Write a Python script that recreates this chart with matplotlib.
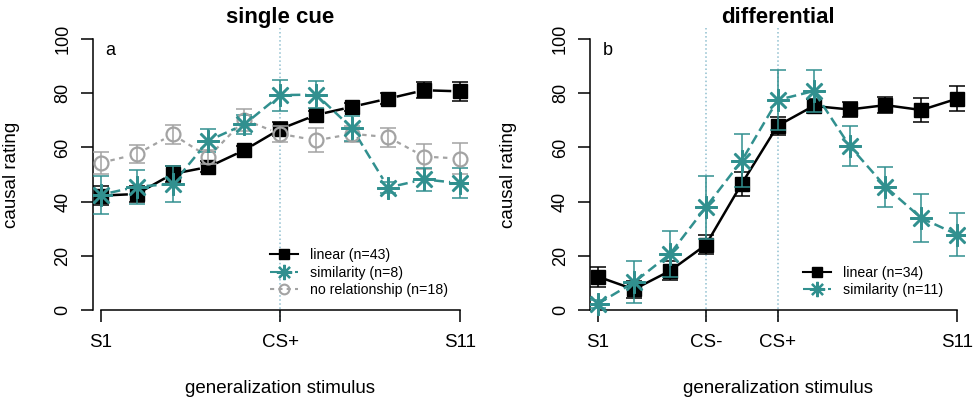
import numpy as np
import matplotlib.pyplot as plt
from matplotlib.lines import Line2D

plt.rcParams['font.family'] = ['Liberation Sans', 'DejaVu Sans']

stim = np.arange(1, 12)

# panel a: single cue
single_linear = [42.2, 42.8, 50.2, 52.8, 59.0, 66.8, 72.0, 75.0, 78.0, 81.1, 80.7]
single_linear_err = [3.5, 3.0, 3.0, 2.0, 1.5, 2.5, 1.5, 1.5, 2.0, 3.0, 3.5]
single_sim = [42.5, 45.5, 46.5, 62.5, 68.5, 79.3, 79.5, 67.0, 45.2, 48.2, 46.8]
single_sim_err = [7.0, 6.3, 6.6, 4.3, 3.5, 5.7, 4.9, 4.6, 2.0, 4.3, 5.5]
single_none = [54.3, 57.5, 64.8, 56.5, 70.2, 65.0, 62.6, 65.0, 63.8, 56.6, 55.9]
single_none_err = [4.1, 3.4, 3.6, 2.5, 4.0, 3.0, 4.4, 3.0, 3.5, 4.5, 5.6]

# panel b: differential
diff_linear = [12.3, 7.6, 14.4, 24.0, 46.6, 68.0, 75.3, 74.0, 75.6, 73.8, 78.0]
diff_linear_err = [3.7, 3.0, 3.5, 3.5, 4.5, 3.4, 2.5, 2.7, 3.0, 4.6, 4.6]
diff_sim = [2.3, 10.2, 20.6, 37.9, 55.1, 77.5, 80.8, 60.6, 45.5, 33.9, 27.8]
diff_sim_err = [1.5, 7.7, 8.6, 11.6, 9.7, 11.1, 7.7, 7.4, 7.4, 8.8, 7.9]

single_ticks = [1, 6, 11]
single_ticklabels = ['S1', 'CS+', 'S11']
diff_ticks = [1, 4, 6, 11]
diff_ticklabels = ['S1', 'CS-', 'CS+', 'S11']

TEAL = '#31908f'
GREY = '#a3a3a3'
VLINE = '#8fbfcf'

fig = plt.figure(figsize=(9.74, 4.04), dpi=100)
W, H = 974.0, 404.0


def make_axes(left_px):
    ax = fig.add_axes([left_px / W, 1 - 320.8 / H, 374.7 / W, 292.6 / H])
    ax.set_xlim(0.786, 11.214)
    ax.set_ylim(-4, 104)
    for s in ['top', 'right']:
        ax.spines[s].set_visible(False)
    ax.spines['left'].set_bounds(0, 100)
    ax.spines['bottom'].set_position(('data', 0))
    ax.spines['bottom'].set_bounds(1, 11)
    for s in ['left', 'bottom']:
        ax.spines[s].set_linewidth(1.1)
    ax.set_yticks([0, 20, 40, 60, 80, 100])
    ax.tick_params(axis='y', labelrotation=90, length=8.4, width=1.1, pad=7, labelsize=13)
    ax.tick_params(axis='x', length=8.4, width=1.1, pad=9, labelsize=13.5)
    for lab in ax.get_yticklabels():
        lab.set_va('center')
    ax.set_ylabel('causal rating', fontsize=13.5)
    ax.yaxis.set_label_coords(-0.195, 0.5)
    ax.set_xlabel('generalization stimulus', fontsize=13.5)
    ax.xaxis.label.set_va('center')
    ax.xaxis.set_label_coords(0.5, -0.23)
    return ax


def gapped(ax, x, y, gap=10, **kw):
    # R type="b": segments stop short of the points
    tr = ax.transData
    pts = tr.transform(np.column_stack([x, y]))
    for p0, p1 in zip(pts[:-1], pts[1:]):
        d = p1 - p0
        L = np.hypot(*d)
        if L <= 2 * gap:
            continue
        u = d / L
        seg = tr.inverted().transform(np.array([p0 + u * gap, p1 - u * gap]))
        ax.plot(seg[:, 0], seg[:, 1], **kw)


def errs(ax, x, y, e, color):
    ax.errorbar(x, y, yerr=e, fmt='none', ecolor=color, elinewidth=1.1,
                capsize=6, capthick=1.1, zorder=4)


ast = (8, 2, 0)

# ---- panel a
ax1 = make_axes(93)
ax1.axvline(6, color=VLINE, ls=':', lw=1.1, zorder=0)
gapped(ax1, stim, single_linear, color='black', lw=1.8, zorder=2)
gapped(ax1, stim, single_none, color=GREY, lw=1.6, ls=(0, (2, 2)), zorder=2)
gapped(ax1, stim, single_sim, color=TEAL, lw=1.8, ls=(0, (4, 2)), zorder=2)
ax1.plot(stim, single_linear, 's', color='black', ms=9.5, zorder=3)
errs(ax1, stim, single_linear, single_linear_err, 'black')
ax1.plot(stim, single_none, 'o', mfc='none', mec=GREY, mew=1.6, ms=10, zorder=5)
errs(ax1, stim, single_none, single_none_err, GREY)
ax1.plot(stim, single_sim, ls='none', marker=ast, color=TEAL, mew=1.8, ms=16, zorder=6)
errs(ax1, stim, single_sim, single_sim_err, TEAL)
ax1.set_xticks(single_ticks)
ax1.set_xticklabels(single_ticklabels)
ax1.xaxis.get_major_ticks()[1].tick1line.set_linestyle((0, (2, 1)))
ax1.set_title('single cue', fontsize=16, fontweight='bold', pad=3)
ax1.text(1.26, 95.9, 'a', fontsize=13, ha='center', va='center')

h1 = [Line2D([], [], color='black', lw=1.5, marker='s', ms=7),
      Line2D([], [], color=TEAL, lw=1.5, ls=(0, (4, 2)), marker=ast, ms=11, mew=1.6),
      Line2D([], [], color=GREY, lw=1.5, ls=(0, (2, 2)), marker='o', mfc='none', ms=7, mew=1.5)]
fig.legend(h1, ['linear (n=43)', 'similarity (n=8)', 'no relationship (n=18)'],
           loc='center left', bbox_to_anchor=(270 / W, 1 - 272.5 / H), frameon=False,
           fontsize=10.2, handlelength=1.95, handletextpad=0.85, labelspacing=0.27,
           borderpad=0, borderaxespad=0)

# ---- panel b
ax2 = make_axes(590.3)
ax2.axvline(4, color=VLINE, ls=':', lw=1.1, zorder=0)
ax2.axvline(6, color=VLINE, ls=':', lw=1.1, zorder=0)
ax2.plot(stim, diff_linear, color='black', lw=1.8, marker='s', ms=9.5, zorder=3)
errs(ax2, stim, diff_linear, diff_linear_err, 'black')
ax2.plot(stim, diff_sim, color=TEAL, lw=1.8, ls=(0, (4, 2)), marker=ast, mew=1.8, ms=16, zorder=5)
errs(ax2, stim, diff_sim, diff_sim_err, TEAL)
ax2.set_xticks(diff_ticks)
ax2.set_xticklabels(diff_ticklabels)
ax2.xaxis.get_major_ticks()[1].tick1line.set_linestyle((0, (2, 1)))
ax2.xaxis.get_major_ticks()[2].tick1line.set_linestyle((0, (2, 1)))
ax2.set_title('differential', fontsize=16, fontweight='bold', pad=3)
ax2.text(1.26, 95.9, 'b', fontsize=13, ha='center', va='center')

h2 = [Line2D([], [], color='black', lw=1.5, marker='s', ms=7),
      Line2D([], [], color=TEAL, lw=1.5, ls=(0, (4, 2)), marker=ast, ms=11, mew=1.6)]
fig.legend(h2, ['linear (n=34)', 'similarity (n=11)'],
           loc='center left', bbox_to_anchor=(803 / W, 1 - 281.5 / H), frameon=False,
           fontsize=10.2, handlelength=1.95, handletextpad=0.85, labelspacing=0.27,
           borderpad=0, borderaxespad=0)

fig.savefig('out.png', dpi=100)
